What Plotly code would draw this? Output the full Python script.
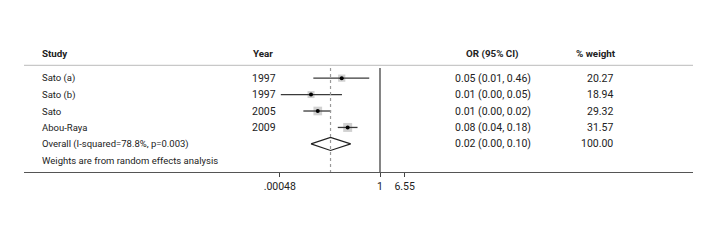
import plotly.graph_objects as go

# ---- data ----
studies = ["Sato (a)", "Sato (b)", "Sato", "Abou-Raya"]
years = ["1997", "1997", "2005", "2009"]
or_est = [0.054, 0.0052, 0.0087, 0.085]
ci_lo = [0.0062, 0.00052, 0.0029, 0.040]
ci_hi = [0.44, 0.055, 0.024, 0.18]
or_text = ["0.05 (0.01, 0.46)", "0.01 (0.00, 0.05)", "0.01 (0.00, 0.02)", "0.08 (0.04, 0.18)"]
weights = ["20.27", "18.94", "29.32", "31.57"]
weight_vals = [20.27, 18.94, 29.32, 31.57]

overall_label = "Overall (I-squared=78.8%, p=0.003)"
overall_est = 0.023
overall_lo = 0.0052
overall_hi = 0.107
overall_text = "0.02 (0.00, 0.10)"
overall_weight = "100.00"
note = "Weights are from random effects analysis"

headers = ["Study", "Year", "OR (95% CI)", "% weight"]
tick_vals = [0.00048, 1, 6.55]
tick_text = [".00048", "1", "6.55"]

FONT = "Roboto, Liberation Sans, sans-serif"
FS_NUM = 10.5
FS_TXT = 9.5
FS_HEAD = 9.8
OFF = 8  # page body margin
W, H = 720, 240
L = 24 - OFF
R = W - (693 - OFF)
plot_w = W - L - R


def px(xpix):
    return (xpix - OFF - L) / plot_w


rows = list(range(len(studies)))
y_overall = len(studies)
y_note = len(studies) + 1
y_header = -1.47
y_hline = -0.78
y_top = -0.62
y_axis = 5.71

fig = go.Figure()

# weight boxes
fig.add_trace(go.Scatter(
    x=or_est, y=rows, mode="markers",
    marker=dict(symbol="square", color="#bdbdbd",
                size=[w ** 0.5 * 1.6 for w in weight_vals], line=dict(width=0)),
    hoverinfo="skip", showlegend=False))

# CI lines
for i in rows:
    fig.add_trace(go.Scatter(
        x=[ci_lo[i], ci_hi[i]], y=[i, i], mode="lines",
        line=dict(color="#3a3a3a", width=1.3), hoverinfo="skip", showlegend=False))

# point estimates
fig.add_trace(go.Scatter(
    x=or_est, y=rows, mode="markers",
    marker=dict(symbol="circle", color="black", size=4),
    hoverinfo="skip", showlegend=False))

# diamond
dh = 0.4
fig.add_trace(go.Scatter(
    x=[overall_lo, overall_est, overall_hi, overall_est, overall_lo],
    y=[y_overall, y_overall - dh, y_overall, y_overall + dh, y_overall],
    mode="lines", fill="toself", fillcolor="white",
    line=dict(color="#222", width=1.2), hoverinfo="skip", showlegend=False))

# reference lines
fig.add_shape(type="line", xref="x", yref="y", x0=1, x1=1, y0=y_top, y1=y_axis,
              line=dict(color="#333", width=1.2))
fig.add_shape(type="line", xref="x", yref="y", x0=overall_est, x1=overall_est,
              y0=y_top, y1=y_axis, line=dict(color="#999", width=1.2, dash="dot"))
# header line
fig.add_shape(type="line", xref="paper", yref="y", x0=0, x1=1, y0=y_hline, y1=y_hline,
              line=dict(color="#c8c8c8", width=1.2))

ann = []
def text(x, y, s, anchor="left", bold=False, size=FS_NUM):
    ann.append(dict(x=px(x), y=y, xref="paper", yref="y", text=f"<b>{s}</b>" if bold else s,
                    showarrow=False, xanchor=anchor, yanchor="middle",
                    font=dict(family=FONT, size=size, color="#222")))

text(40, y_header, headers[0], bold=True, size=FS_HEAD)
text(251, y_header, headers[1], bold=True, size=FS_HEAD)
text(492, y_header, headers[2], "center", bold=True, size=FS_HEAD)
text(618, y_header, headers[3], "right", bold=True, size=FS_HEAD)

for i in rows:
    text(40, i, studies[i], size=FS_TXT)
    text(250, i, years[i])
    text(493, i, or_text[i], "center")
    text(615, i, weights[i], "right")

text(40, y_overall, overall_label, size=FS_TXT)
text(493, y_overall, overall_text, "center")
text(615, y_overall, overall_weight, "right")
text(40, y_note, note, size=FS_TXT)

fig.update_layout(
    width=W, height=H, margin=dict(l=L, r=R, t=40 - OFF, b=240 - (172.5 - OFF)),
    paper_bgcolor="white", plot_bgcolor="white",
    annotations=ann,
    xaxis=dict(type="log", range=[(24 - 380) / 30.2, (693 - 380) / 30.2],
               tickvals=tick_vals, ticktext=tick_text, ticks="outside", ticklen=4,
               tickcolor="#444", showline=True, linecolor="#555", linewidth=1.2,
               showgrid=False, zeroline=False,
               tickfont=dict(family=FONT, size=FS_NUM, color="#222")),
    yaxis=dict(range=[y_axis, -2.32], visible=False, showgrid=False, zeroline=False),
)

fig.write_html("out.html")
